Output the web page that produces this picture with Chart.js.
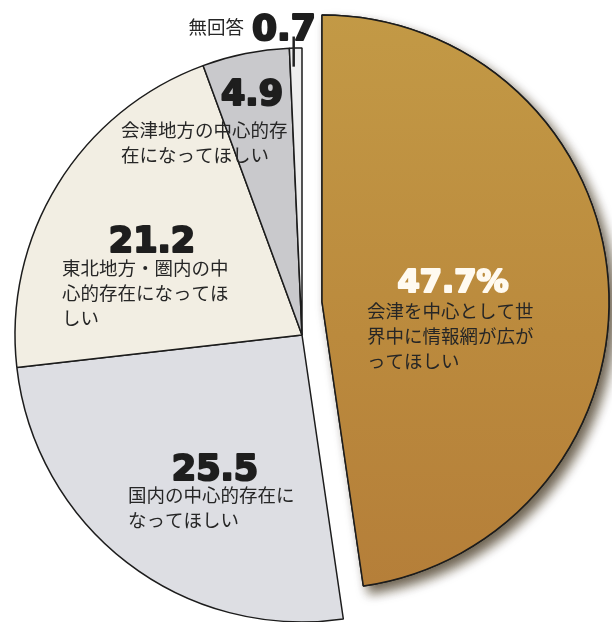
<!DOCTYPE html>
<html lang="ja">
<head>
<meta charset="utf-8">
<script src="https://cdn.jsdelivr.net/npm/chart.js@4.4.1/dist/chart.umd.min.js"></script>
<style>
  html, body { margin: 0; padding: 0; background: #fff; overflow: hidden; }
  #wrap { position: absolute; left: 0; top: 0; width: 640px; height: 680px; }
</style>
</head>
<body>
<div id="wrap"><canvas id="pie"></canvas></div>
<script>
const categories = [
  '会津を中心として世界中に情報網が広がってほしい',
  '国内の中心的存在になってほしい',
  '東北地方・圏内の中心的存在になってほしい',
  '会津地方の中心的存在になってほしい',
  '無回答'
];
const values = [47.7, 25.5, 21.2, 4.9, 0.7];
const sliceColors = ['#bb893d', '#dddee3', '#f2eee3', '#c9c9cc', '#eeeeee'];

// first slice is pulled out up and to the right
const explode = { dx: 20, dy: -33 };

// figure / caption placement, relative to the centre of each slice's arc
const labelPos = [
  { nx: 131, ny: -10, nAlign: 'center', tx: 45, ty: 9, tAlign: 'left', size: 32, color: '#fffaf0' },
  { nx: -87, ny: 145, nAlign: 'center', tx: -174, ty: 160, tAlign: 'left', size: 35, color: '#1e1e1e' },
  { nx: -150, ny: -83, nAlign: 'center', tx: -240, ty: -67, tAlign: 'left', size: 35, color: '#1e1e1e' },
  { nx: -50, ny: -230, nAlign: 'center', tx: -181, ty: -205, tAlign: 'left', size: 35, color: '#1e1e1e' },
  { nx: -50, ny: -295, nAlign: 'left', tx: -58, ty: -308, tAlign: 'right', size: 36, color: '#1e1e1e' }
];

function woodFill(chart) {
  const area = chart.chartArea;
  if (!area) return sliceColors[0];
  const g = chart.ctx.createLinearGradient(0, area.top, 0, area.bottom);
  g.addColorStop(0, '#c39a46');
  g.addColorStop(0.5, '#bb8a3d');
  g.addColorStop(1, '#b37b38');
  return g;
}

function wrap(text, n) {
  const lines = [];
  for (let i = 0; i < text.length; i += n) lines.push(text.slice(i, i + n));
  return lines;
}

const sliceLabels = {
  id: 'sliceLabels',
  afterDatasetUpdate(chart, args) {
    if (args.index !== 0) return;
    const arc = chart.getDatasetMeta(0).data[0];
    arc.x += explode.dx;
    arc.y += explode.dy;
  },
  beforeDatasetsDraw(chart) {
    // drop shadow under the pulled-out slice
    const ctx = chart.ctx;
    const arc = chart.getDatasetMeta(0).data[0];
    ctx.save();
    ctx.shadowColor = 'rgba(50, 35, 10, 0.7)';
    ctx.shadowBlur = 11;
    ctx.shadowOffsetX = 6;
    ctx.shadowOffsetY = 7;
    arc.draw(ctx);
    ctx.restore();
  },
  afterDatasetsDraw(chart) {
    const ctx = chart.ctx;
    const arcs = chart.getDatasetMeta(0).data;
    ctx.save();
    arcs.forEach((arc, i) => {
      const p = labelPos[i];
      const num = values[i].toFixed(1) + (i === 0 ? '%' : '');
      ctx.font = 'bold ' + p.size + 'px "DejaVu Sans"';
      ctx.textAlign = p.nAlign;
      ctx.textBaseline = 'alphabetic';
      ctx.fillStyle = p.color;
      ctx.strokeStyle = p.color;
      ctx.lineWidth = 2.2;
      ctx.lineJoin = 'round';
      ctx.fillText(num, arc.x + p.nx, arc.y + p.ny);
      ctx.strokeText(num, arc.x + p.nx, arc.y + p.ny);

      ctx.font = '18.5px "Noto Sans CJK JP"';
      ctx.textAlign = p.tAlign;
      ctx.textBaseline = 'middle';
      ctx.fillStyle = '#262626';
      wrap(categories[i], 9).forEach((line, k) => {
        ctx.fillText(line, arc.x + p.tx, arc.y + p.ty + k * 25);
      });
    });

    // leader from the "無回答" figure down into its thin slice
    const last = arcs[arcs.length - 1];
    const mid = (last.startAngle + last.endAngle) / 2;
    const lx = last.x + Math.cos(mid) * last.outerRadius - 2;
    ctx.strokeStyle = '#222';
    ctx.lineWidth = 2.5;
    ctx.beginPath();
    ctx.moveTo(lx, last.y - last.outerRadius * 1.04);
    ctx.lineTo(lx, last.y - last.outerRadius * 0.935);
    ctx.stroke();
    ctx.restore();
  }
};

new Chart(document.getElementById('pie'), {
  type: 'pie',
  data: {
    labels: categories,
    datasets: [{
      data: values,
      radius: 287,
      backgroundColor: c => c.dataIndex === 0 ? woodFill(c.chart) : sliceColors[c.dataIndex],
      borderColor: '#1c1c1c',
      borderWidth: 1.5,
      clip: false
    }]
  },
  options: {
    responsive: true,
    maintainAspectRatio: false,
    animation: false,
    events: [],
    layout: { padding: { left: 0, top: 0, right: 36, bottom: 10 } },
    plugins: {
      legend: { display: false },
      tooltip: { enabled: false }
    }
  },
  plugins: [sliceLabels]
});
</script>
</body>
</html>
